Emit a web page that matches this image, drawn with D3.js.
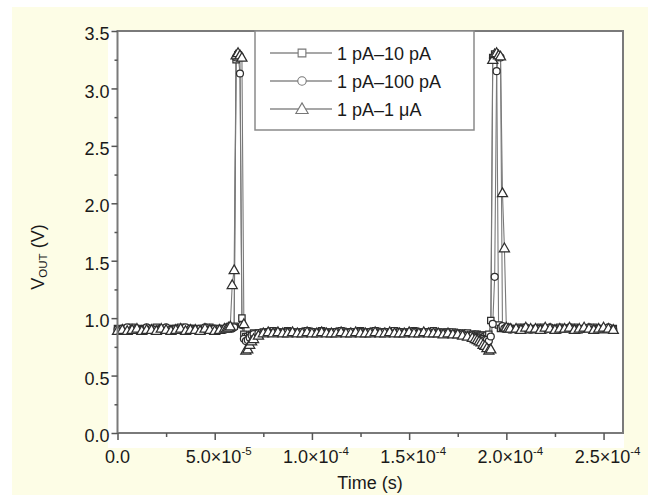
<!DOCTYPE html>
<html><head><meta charset="utf-8">
<script src="https://cdn.jsdelivr.net/npm/d3@7"></script>
<style>body{margin:0;background:#fff}svg{display:block}</style>
</head><body>
<svg id="c" width="648" height="495"></svg>
<script>
// time in microseconds
const timeUs = [
  0,2.5,5,7.5,10,12.5,15,17.5,20,22.5,25,27.5,30,32.5,35,37.5,40,42.5,45,47.5,50,52.5,55,
  56,57,58,59,60,61,62,63,64,65,66,67,68,69,70,
  72.5,75,77.5,80,82.5,85,87.5,90,92.5,95,97.5,100,102.5,105,107.5,110,112.5,115,117.5,120,122.5,125,127.5,130,132.5,135,137.5,140,142.5,145,147.5,150,152.5,155,157.5,160,162.5,165,167.5,170,172.5,175,177.5,180,182.5,
  184,185,186,187,188,189,190,191,192,193,194,195,196,197,198,199,200,201,202,
  205,207.5,210,212.5,215,217.5,220,222.5,225,227.5,230,232.5,235,237.5,240,242.5,245,247.5,250,252.5,255
];
const vSquare = [
  0.91,0.90,0.91,0.92,0.90,0.91,0.91,0.90,0.92,0.91,0.90,0.91,0.91,0.92,0.90,0.91,0.91,0.90,0.91,0.92,0.91,0.90,0.91,
  0.91,0.92,0.91,0.92,0.93,3.25,3.29,3.27,1.00,0.86,0.84,0.84,0.85,0.86,0.87,
  0.87,0.88,0.88,0.89,0.88, 0.88,0.89,0.88,0.88,0.88, 0.89,0.88,0.88,0.89,0.88, 0.88,0.88,0.89,0.88,0.88, 0.88,0.89,0.88,0.88,0.89, 0.88,0.88,0.88,0.89,0.88, 0.88,0.88,0.89,0.88,0.88, 0.88,0.89,0.88,0.88,0.88, 0.88,0.87,0.87,0.87,0.86,
  0.86,0.86,0.85,0.85,0.85,0.84,0.85,0.86,0.98,3.27,3.30,3.28,0.94,0.91,0.92,0.91,0.91,0.92,0.91,
  0.91,0.92,0.91,0.90,0.91,0.92,0.91,0.91,0.90,0.92,0.91,0.91,0.92,0.90,0.91,0.91,0.92,0.91,0.90,0.91,0.91
];
const vCircle = [
  0.90,0.91,0.92,0.90,0.91,0.90,0.92,0.91,0.90,0.91,0.92,0.90,0.91,0.90,0.92,0.91,0.90,0.91,0.92,0.90,0.91,0.91,0.90,
  0.91,0.91,0.92,0.91,0.92,3.27,3.30,3.13,0.94,0.82,0.80,0.81,0.83,0.85,0.86,
  0.87,0.87,0.88,0.87,0.88, 0.87,0.88,0.87,0.87,0.88, 0.87,0.88,0.87,0.88,0.87, 0.87,0.88,0.87,0.87,0.88, 0.87,0.88,0.87,0.88,0.87, 0.87,0.88,0.87,0.87,0.88, 0.87,0.87,0.88,0.87,0.87, 0.88,0.87,0.87,0.87,0.87, 0.86,0.86,0.86,0.85,0.85,
  0.84,0.83,0.83,0.82,0.82,0.81,0.81,0.80,0.84,0.95,1.36,3.15,3.28,3.27,0.93,0.91,0.92,0.91,0.90,
  0.90,0.91,0.92,0.90,0.91,0.91,0.90,0.92,0.91,0.90,0.91,0.92,0.91,0.90,0.91,0.92,0.90,0.91,0.91,0.92,0.90
];
const vTriangle = [
  0.89,0.90,0.89,0.90,0.91,0.89,0.90,0.90,0.89,0.91,0.90,0.89,0.90,0.91,0.89,0.90,0.90,0.89,0.91,0.90,0.89,0.90,0.91,
  0.91,0.92,0.93,1.29,1.42,3.29,3.31,3.29,3.27,0.95,0.72,0.73,0.77,0.80,0.82,
  0.85,0.87,0.88,0.87,0.88, 0.87,0.87,0.88,0.87,0.87, 0.88,0.87,0.87,0.88,0.87, 0.87,0.87,0.88,0.87,0.87, 0.88,0.87,0.87,0.87,0.88, 0.87,0.87,0.88,0.87,0.87, 0.87,0.88,0.87,0.87,0.88, 0.87,0.87,0.87,0.86,0.87, 0.86,0.86,0.85,0.84,0.83,
  0.82,0.81,0.80,0.79,0.77,0.76,0.74,0.72,0.73,3.25,3.30,3.31,3.29,3.28,2.09,1.61,0.92,0.91,0.91,
  0.91,0.90,0.92,0.91,0.91,0.90,0.92,0.91,0.90,0.91,0.91,0.92,0.90,0.91,0.92,0.91,0.90,0.91,0.92,0.91,0.90
];
const seriesNames = ["1 pA\u201310 pA", "1 pA\u2013100 pA", "1 pA\u20131 \u03bcA"];
const seriesSymbols = ["square", "circle", "triangle"];
const xTickValues = [0, 50, 100, 150, 200, 250];
const xTickMantissa = ["0.0", "5.0\u00d710", "1.0\u00d710", "1.5\u00d710", "2.0\u00d710", "2.5\u00d710"];
const xTickExponent = ["", "-5", "-4", "-4", "-4", "-4"];
const xMinorTicks = [25, 75, 125, 175, 225];
const yTickValues = [0, 0.5, 1, 1.5, 2, 2.5, 3, 3.5];
const yTickLabels = ["0.0", "0.5", "1.0", "1.5", "2.0", "2.5", "3.0", "3.5"];
const yMinorTicks = [0.25, 0.75, 1.25, 1.75, 2.25, 2.75, 3.25];

const svg = d3.select("#c");
const L = 117.5, R = 623, T = 31, B = 433;
const x = d3.scaleLinear().domain([0, 260]).range([L, R]);
const y = d3.scaleLinear().domain([0, 3.5]).range([B, T]);
const FONT = "'Liberation Sans', Arial, Helvetica, sans-serif";
const FS = 18;

svg.append("rect").attr("x", 12).attr("y", 7).attr("width", 636).attr("height", 488).attr("fill", "#fdfde6");
svg.append("rect").attr("x", 108).attr("y", 30).attr("width", R - 108 + 1).attr("height", 448 - 30).attr("fill", "#ffffff");

const series = [vSquare, vCircle, vTriangle];
const symType = {square: d3.symbolSquare, circle: d3.symbolCircle, triangle: d3.symbolTriangle};
const symSize = {square: 40, circle: 38, triangle: 44};

const line = d3.line().x((d) => x(d[0])).y((d) => y(d[1]));
const gData = svg.append("g");
series.forEach((vals, si) => {
  const pts = timeUs.map((t, i) => [t, vals[i]]);
  gData.append("path").datum(pts).attr("d", line)
    .attr("fill", "none").attr("stroke", "#7a7a7a").attr("stroke-width", 1.1);
});
series.forEach((vals, si) => {
  const pts = timeUs.map((t, i) => [t, vals[i]]);
  const sym = d3.symbol().type(symType[seriesSymbols[si]]).size(symSize[seriesSymbols[si]]);
  gData.selectAll(null).data(pts).enter().append("path")
    .attr("d", sym)
    .attr("transform", (d) => `translate(${x(d[0])},${y(d[1]) + (seriesSymbols[si] === "triangle" ? 0.8 : 0)})`)
    .attr("fill", "#ffffff").attr("stroke", "#2e2e2e").attr("stroke-width", 1.25);
});

// frame
svg.append("rect").attr("x", L).attr("y", T).attr("width", R - L).attr("height", B - T)
  .attr("fill", "none").attr("stroke", "#7a7a7a").attr("stroke-width", 2);

// y axis
const yAxis = svg.append("g").attr("transform", `translate(${L},0)`)
  .call(d3.axisLeft(y).tickValues(yTickValues).tickSize(6).tickPadding(2).tickFormat((d, i) => yTickLabels[i]));
yAxis.select(".domain").remove();
yAxis.selectAll("line").attr("stroke", "#555").attr("stroke-width", 1.5);
yAxis.selectAll("text").attr("font-family", FONT).attr("font-size", FS).attr("fill", "#1a1a1a").attr("dy", "0.48em");
const yMinor = svg.append("g").attr("transform", `translate(${L},0)`)
  .call(d3.axisLeft(y).tickValues(yMinorTicks).tickSize(3).tickFormat(""));
yMinor.select(".domain").remove();
yMinor.selectAll("line").attr("stroke", "#555").attr("stroke-width", 1.5);

// x axis
const xAxis = svg.append("g").attr("transform", `translate(0,${B})`)
  .call(d3.axisBottom(x).tickValues(xTickValues).tickSize(7).tickFormat(""));
xAxis.select(".domain").remove();
xAxis.selectAll("line").attr("stroke", "#555").attr("stroke-width", 1.5);
const xMinor = svg.append("g").attr("transform", `translate(0,${B})`)
  .call(d3.axisBottom(x).tickValues(xMinorTicks).tickSize(4).tickFormat(""));
xMinor.select(".domain").remove();
xMinor.selectAll("line").attr("stroke", "#555").attr("stroke-width", 1.5);

xTickValues.forEach((v, i) => {
  const t = svg.append("text").attr("x", x(v) + (xTickExponent[i] ? 4 : 0)).attr("y", 463)
    .attr("text-anchor", "middle").attr("font-family", FONT).attr("font-size", FS).attr("fill", "#1a1a1a");
  t.append("tspan").text(xTickMantissa[i]);
  if (xTickExponent[i]) {
    t.append("tspan").attr("dy", -8).attr("font-size", 11.5).text(xTickExponent[i]);
  }
});

svg.append("text").attr("x", 370).attr("y", 489).attr("text-anchor", "middle")
  .attr("font-family", FONT).attr("font-size", FS).attr("fill", "#1a1a1a").text("Time (s)");

const yl = svg.append("text").attr("transform", "translate(44,257) rotate(-90)")
  .attr("text-anchor", "middle").attr("font-family", FONT).attr("font-size", FS).attr("fill", "#1a1a1a");
yl.append("tspan").text("V");
yl.append("tspan").attr("font-size", 11.5).attr("dy", 3).text("OUT");
yl.append("tspan").attr("dy", -3).text(" (V)");

// legend
const lg = svg.append("g");
lg.append("rect").attr("x", 255).attr("y", T).attr("width", 219).attr("height", 99)
  .attr("fill", "#fff").attr("stroke", "#8a8a8a").attr("stroke-width", 1.5);
const legendSize = {square: 60, circle: 56, triangle: 66};
seriesNames.forEach((name, i) => {
  const cy = 53 + i * 28;
  lg.append("line").attr("x1", 270).attr("x2", 332).attr("y1", cy).attr("y2", cy)
    .attr("stroke", "#8a8a8a").attr("stroke-width", 1.5);
  lg.append("path").attr("d", d3.symbol().type(symType[seriesSymbols[i]]).size(legendSize[seriesSymbols[i]]))
    .attr("transform", `translate(302,${cy + (seriesSymbols[i] === "triangle" ? 1 : 0)})`)
    .attr("fill", "#fff").attr("stroke", "#777").attr("stroke-width", 1.1);
  lg.append("text").attr("x", 337).attr("y", cy + 6.5).attr("font-family", FONT).attr("font-size", FS)
    .attr("fill", "#1a1a1a").text(name);
});
</script>
</body></html>
